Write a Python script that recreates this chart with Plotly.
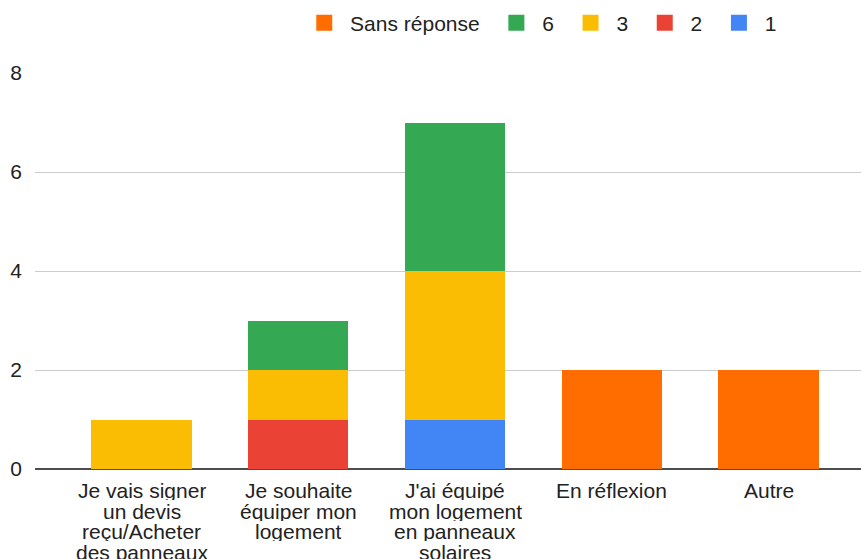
import plotly.graph_objects as go

categories = [
    "Je vais signer<br>un devis<br>reçu/Acheter<br>des panneaux",
    "Je souhaite<br>équiper mon<br>logement",
    "J'ai équipé<br>mon logement<br>en panneaux<br>solaires",
    "En réflexion",
    "Autre",
]
series_names = ["1", "2", "3", "6", "Sans réponse"]
s1 = [0, 0, 1, 0, 0]
s2 = [0, 1, 0, 0, 0]
s3 = [1, 1, 3, 0, 0]
s6 = [0, 1, 3, 0, 0]
s_sans = [0, 0, 0, 2, 2]
colors = ["#4285f4", "#ea4335", "#fbbc04", "#34a853", "#ff6d01"]
y_ticks = [0, 2, 4, 6, 8]

FONT = "Liberation Sans, Arial, sans-serif"
TXT = "#222222"
NB = "\u00a0"

fig = go.Figure()
for name, vals, col in zip(series_names, [s1, s2, s3, s6, s_sans], colors):
    fig.add_trace(go.Bar(
        x=list(range(len(categories))), y=vals, name=name, legendgroup=name,
        marker=dict(color=col, line=dict(width=0)),
        hoverinfo="skip", showlegend=False,
    ))
# legend entries with larger square swatches
for name, col in zip(series_names, colors):
    fig.add_trace(go.Scatter(
        x=[None], y=[None], mode="markers", name=NB + name + NB * 2, legendgroup=name,
        marker=dict(symbol="square", size=20, color=col, line=dict(width=0)),
        hoverinfo="skip", showlegend=True,
    ))

# category labels, drawn line by line for tight line spacing
annotations = []
for i, cat in enumerate(categories):
    for j, line in enumerate(cat.split("<br>")):
        annotations.append(dict(
            x=i, xref="x", y=0, yref="y", text=line, showarrow=False,
            xanchor="center", yanchor="middle", yshift=-(21 + 20.7 * j),
            height=20, valign="middle",
            font=dict(family=FONT, size=21, color=TXT),
        ))

fig.update_layout(
    barmode="stack",
    bargap=0.36,
    width=861, height=559,
    margin=dict(l=35, r=0, t=73, b=90, autoexpand=False),
    paper_bgcolor="white", plot_bgcolor="white",
    font=dict(family=FONT, size=21, color=TXT),
    legend=dict(
        orientation="h", traceorder="reversed",
        x=0.326, xanchor="left", y=1 - 23 / 559, yanchor="middle", yref="container",
        font=dict(family=FONT, size=21, color=TXT),
        itemwidth=30,
    ),
    showlegend=True,
    annotations=annotations,
)
fig.update_xaxes(
    range=[-0.68, 4.59], showgrid=False, showline=False, ticks="",
    showticklabels=False, zeroline=False,
)
fig.update_yaxes(
    range=[0, 8], tickvals=y_ticks, showgrid=True, gridcolor="#cccccc", gridwidth=1,
    zeroline=True, zerolinecolor="#4d4d4d", zerolinewidth=2,
    ticks="", showline=False, tickfont=dict(family=FONT, size=21, color=TXT),
    ticklabelstandoff=12,
)

fig.write_html(
    "out.html",
    config={"displayModeBar": False},
    post_script="document.body.style.margin='0px';document.body.style.overflow='hidden';",
)
